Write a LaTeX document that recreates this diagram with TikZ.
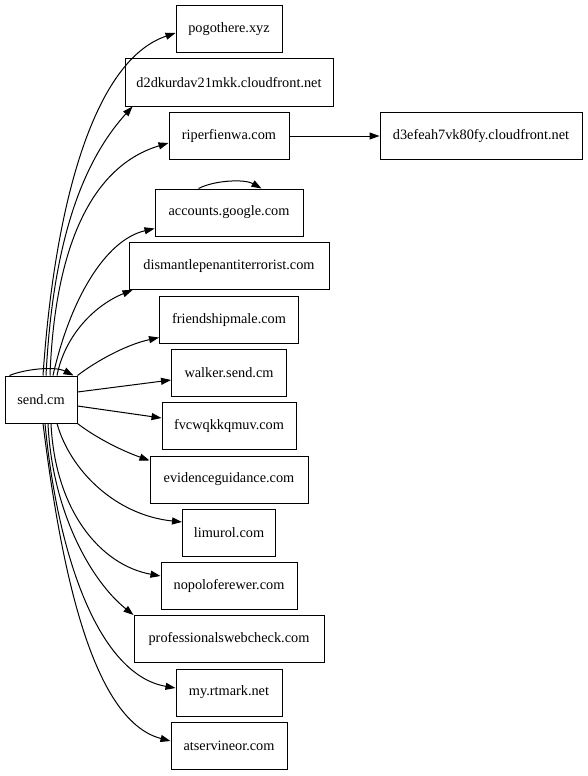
\documentclass[tikz,border=0pt]{standalone}
\usepackage{fontspec}
\setmainfont{Liberation Serif}
\usetikzlibrary{arrows.meta}
\begin{document}
\begin{tikzpicture}[x=1pt,y=-1pt,
  box/.style={draw, line width=1pt, minimum height=47pt, inner sep=0pt, font=\fontsize{14.3}{16}\selectfont},
  edge/.style={line width=1pt, -{Triangle[length=10pt,width=7pt]}}]
\useasboundingbox[fill=white] (0,0) rectangle (588,776);
\node[box, minimum width=72pt]  (send) at (41,399.5) {send.cm};
\node[box, minimum width=106pt] (pogo) at (229,29) {pogothere.xyz};
\node[box, minimum width=208pt] (d2dk) at (229,82.5) {d2dkurdav21mkk.cloudfront.net};
\node[box, minimum width=120pt] (riper) at (229,136) {riperfienwa.com};
\node[box, minimum width=202pt] (d3ef) at (481,136) {d3efeah7vk80fy.cloudfront.net};
\node[box, minimum width=148pt] (acc) at (229,212.5) {accounts.google.com};
\node[box, minimum width=200pt] (dis) at (229,266) {dismantlepenantiterrorist.com};
\node[box, minimum width=139pt] (fri) at (229,319.5) {friendshipmale.com};
\node[box, minimum width=115pt] (walk) at (229,372.5) {walker.send.cm};
\node[box, minimum width=134pt] (fvc) at (229,426) {fvcwqkkqmuv.com};
\node[box, minimum width=158pt] (evi) at (229,479.5) {evidenceguidance.com};
\node[box, minimum width=93pt]  (lim) at (229,532.5) {limurol.com};
\node[box, minimum width=136pt] (nop) at (229,585.5) {nopoloferewer.com};
\node[box, minimum width=190pt] (prof) at (229,639) {professionalswebcheck.com};
\node[box, minimum width=106pt] (my) at (229,692.5) {my.rtmark.net};
\node[box, minimum width=116pt] (ats) at (229,745.5) {atservineor.com};
% upward edges
\draw[edge] ([xshift=2pt]send.north) .. controls (55,200) and (95,60) .. ([yshift=-4pt]pogo.west);
\draw[edge] ([xshift=5pt]send.north) .. controls (52,260) and (75,170) .. ([xshift=8pt]d2dk.south west);
\draw[edge] ([xshift=9pt]send.north) .. controls (55,240) and (95,165) .. ([yshift=-7pt]riper.west);
\draw[edge] ([xshift=12pt]send.north) .. controls (70,300) and (105,240) .. ([yshift=8pt]acc.south west);
\draw[edge] ([xshift=16pt]send.north) .. controls (65,335) and (95,305) .. ([xshift=4pt]dis.south west);
\draw[edge] (send.north east) .. controls (95,362) and (125,345) .. ([yshift=6pt]fri.south west);
% side edges
\draw[edge] ([yshift=7.5pt]send.east) -- ([yshift=-7.5pt]walk.west);
\draw[edge] ([yshift=-6.5pt]send.east) -- ([yshift=8pt]fvc.west);
\draw[edge] (send.south east) .. controls (95,437) and (120,450) .. ([yshift=-5pt]evi.north west);
% downward edges
\draw[edge] ([xshift=16pt]send.south) .. controls (70,470) and (115,515) .. ([yshift=10.5pt]lim.west);
\draw[edge] ([xshift=10pt]send.south) .. controls (55,510) and (100,565) .. ([yshift=9.5pt]nop.west);
\draw[edge] ([xshift=7pt]send.south) .. controls (52,510) and (90,580) .. (prof.north west);
\draw[edge] ([xshift=4pt]send.south) .. controls (58,560) and (100,675) .. ([yshift=4.5pt]my.west);
\draw[edge] ([xshift=2pt]send.south) .. controls (60,560) and (90,720) .. ([yshift=4.5pt]ats.west);
% self loops
\draw[edge] ([xshift=5pt]send.north west) .. controls (25,369) and (55,366) .. ([xshift=-4pt]send.north east);
\draw[edge] ([xshift=44pt]acc.north west) .. controls (215,180) and (245,179) .. ([xshift=107pt]acc.north west);
% riper -> d3ef
\draw[edge] (riper.east) -- (d3ef.west);
\end{tikzpicture}
\end{document}
